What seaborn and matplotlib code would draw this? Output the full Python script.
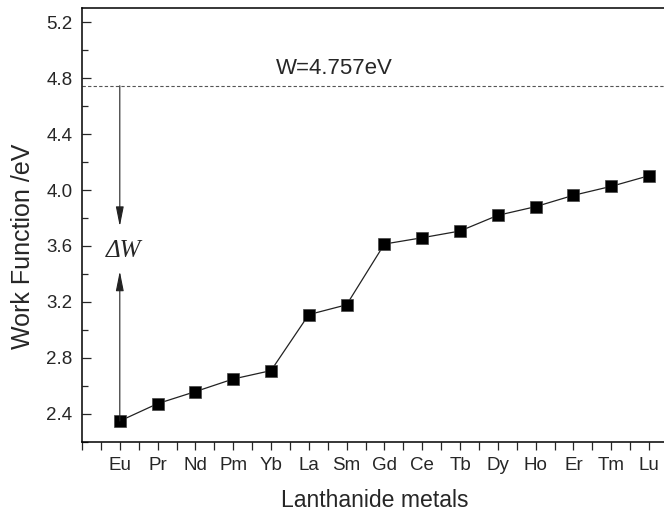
import matplotlib
matplotlib.use("Agg")
import matplotlib.pyplot as plt
import seaborn as sns
import numpy as np
import pandas as pd
from matplotlib.ticker import MultipleLocator

metals = ["Eu", "Pr", "Nd", "Pm", "Yb", "La", "Sm", "Gd", "Ce", "Tb", "Dy", "Ho", "Er", "Tm", "Lu"]
work_function = [2.35, 2.474, 2.56, 2.65, 2.71, 3.11, 3.18, 3.614, 3.659, 3.707, 3.819, 3.881, 3.962, 4.026, 4.102]
W_ref = 4.745
W_label = "W=4.757eV"
arrow_down_end = 3.74
arrow_up_end = 3.42

sns.set_style("ticks")
plt.rcParams["font.family"] = ["Liberation Sans", "DejaVu Sans"]

df = pd.DataFrame({"pos": np.arange(len(metals)), "wf": work_function})

fig = plt.figure(figsize=(6.64, 5.13), dpi=100)
ax = fig.add_axes([82/664, 71/513, 16*37.8/664, (442-8)/513])

sns.lineplot(data=df, x="pos", y="wf", ax=ax, sort=False, color="#222222", lw=0.9,
             marker="s", markersize=8.6, markerfacecolor="black", markeredgecolor="#444444",
             markeredgewidth=0.5)

ax.axhline(W_ref, color="#555555", lw=0.8, ls=(0, (3, 2)))
ax.text(5.67, W_ref + 0.05, W_label, fontsize=16, ha="center", va="bottom")

arrow_kw = dict(arrowstyle="-|>,head_width=0.12,head_length=0.6", color="#222222", lw=0.8,
                mutation_scale=20, shrinkA=0, shrinkB=0)
ax.annotate("", xy=(0, arrow_down_end), xytext=(0, W_ref), arrowprops=arrow_kw)
ax.annotate("", xy=(0, arrow_up_end), xytext=(0, work_function[0]), arrowprops=arrow_kw)
ax.text(0.1, 3.565, "ΔW", fontsize=18, family=["Liberation Serif", "DejaVu Serif"],
        style="italic", ha="center", va="center")

ax.set_xlim(-1, 15)
ax.set_ylim(2.2, 5.3)
ax.set_xticks(df["pos"])
ax.set_xticklabels(metals)
ax.xaxis.set_minor_locator(MultipleLocator(0.5))
ax.yaxis.set_minor_locator(MultipleLocator(0.2))
yt = np.arange(2.4, 5.21, 0.4)
ax.set_yticks(yt)
ax.set_yticklabels([f"{v:.1f}" for v in yt])

ax.tick_params(axis="x", which="both", direction="out", length=6, width=0.9, labelsize=13.5, pad=5)
ax.tick_params(axis="y", which="major", direction="in", length=6.5, width=0.9, labelsize=13.5, pad=7)
ax.tick_params(axis="y", which="minor", direction="in", length=4, width=0.9)

for s in ax.spines.values():
    s.set_linewidth(1.1)
    s.set_color("black")
ax.spines["right"].set_visible(False)

ax.set_xlabel("Lanthanide metals", fontsize=16.6)
ax.xaxis.set_label_coords((375 - 82) / 604.8, -0.108)
ax.set_ylabel("Work Function /eV", fontsize=18)
ax.yaxis.set_label_coords(-0.078, (442 - 246) / 434)

fig.savefig("out.png", dpi=100)
